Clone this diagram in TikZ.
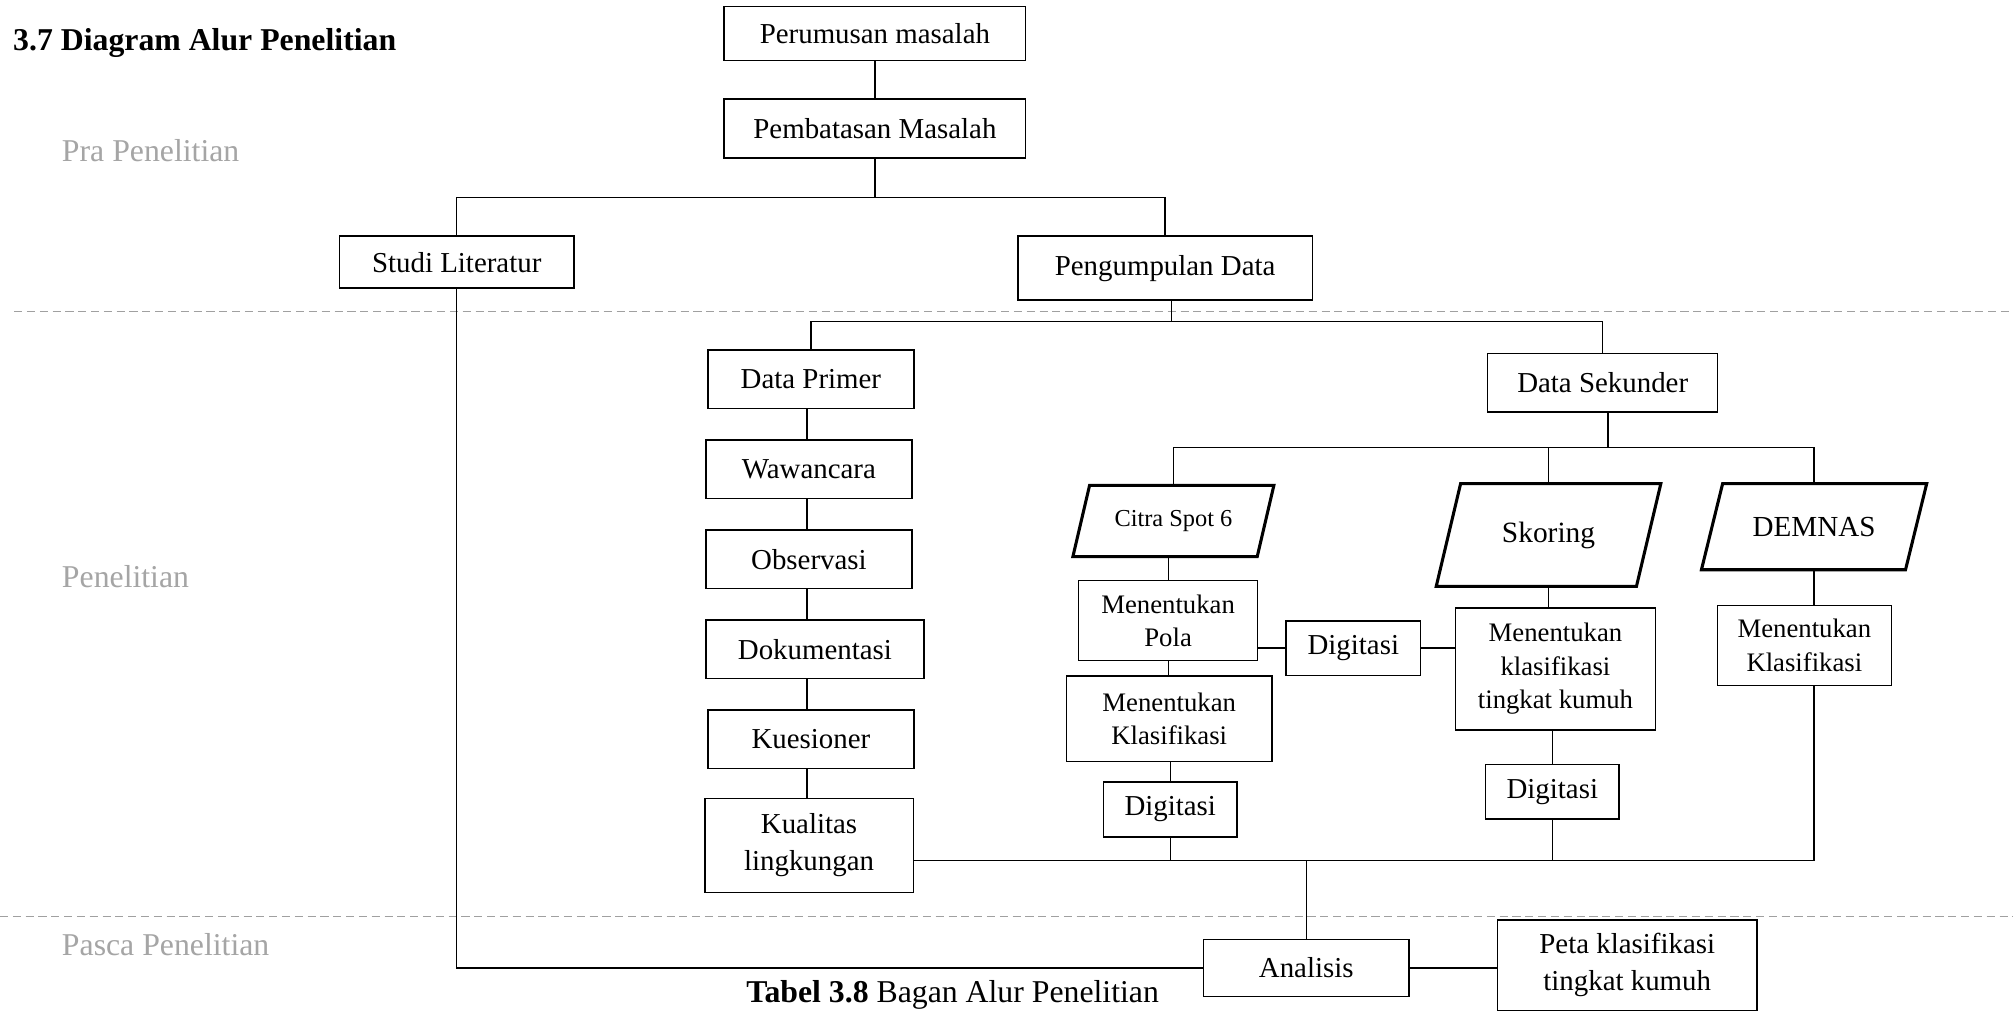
\documentclass[tikz,border=0pt]{standalone}
\usepackage{fontspec}
\setmainfont{Liberation Serif}
\usetikzlibrary{calc}
\definecolor{lblgray}{RGB}{165,165,165}
\definecolor{dashgray}{RGB}{160,160,160}
\tikzset{
  boxnode/.style={draw, line width=0.8pt, inner sep=0pt, align=center, font=\fontsize{16}{20.5}\selectfont},
  smallbox/.style={boxnode, font=\fontsize{14.8}{18.6}\selectfont},
  paranode/.style={inner sep=0pt, align=center},
  paraline/.style={line width=1.7pt, line join=miter},
  conn/.style={line width=0.7pt},
  dashline/.style={dashgray, line width=0.9pt, dash pattern=on 4.5pt off 2.6pt},
  phase/.style={lblgray, anchor=base west, inner sep=0pt, font=\fontsize{17.6}{20}\selectfont},
}
\newcommand\mybox[7]{\node[#6, minimum width={(#3-#2)*0.025cm}, minimum height={(#5-#4)*0.025cm}] (#1) at ({(#2+#3)/2},{(#4+#5)/2}) {#7};}
\newcommand\mypara[8]{%
  \node[paranode, font=#7, minimum width={(#3-#2)*0.025cm}, minimum height={(#5-#4)*0.025cm}] (#1) at ({(#2+#3)/2},{(#4+#5)/2}) {#8};
  \draw[paraline] ($(#1.north west)+(#6,0)$) -- (#1.north east) -- ($(#1.south east)-(#6,0)$) -- (#1.south west) -- cycle;}
\begin{document}
\begin{tikzpicture}[x=0.025cm, y=-0.025cm]
\useasboundingbox (0,0) rectangle (1568,788);
\fill[white] (0,0) rectangle (1568,788);
\clip (0,0) rectangle (1568,788);

% titles and phase labels
\node[anchor=base west, inner sep=0pt, font=\fontsize{17.6}{20}\selectfont\bfseries] (title) at (10,39) {3.7 Diagram Alur Penelitian};
\node[phase] (pra) at (48,126) {Pra Penelitian};
\node[phase] (pen) at (48,458) {Penelitian};
\node[phase] (pasca) at (48,744) {Pasca Penelitian};
\node[anchor=base west, inner sep=0pt, font=\fontsize{17.6}{20}\selectfont] (cap) at (581,781) {\textbf{Tabel 3.8} Bagan Alur Penelitian};

\draw[dashline] (11,242.5) -- (1568,242.5);
\draw[dashline] (0,714) -- (1568,714);

% boxes
\mybox{pm}{564}{799}{5}{47}{boxnode}{Perumusan masalah}
\mybox{pb}{564}{799}{77}{123}{boxnode}{Pembatasan Masalah}
\mybox{sl}{264.5}{447}{184}{224.5}{boxnode}{Studi Literatur}
\mybox{pd}{792.8}{1022.3}{184}{233.7}{boxnode}{Pengumpulan Data}
\mybox{dp}{551.5}{711.8}{272.6}{318}{boxnode}{Data Primer}
\mybox{ds}{1158.8}{1338}{275.5}{321}{boxnode}{Data Sekunder}
\mybox{ww}{549.8}{710.4}{342.7}{388.2}{boxnode}{Wawancara}
\mybox{ob}{549.8}{710.4}{412.8}{458.3}{boxnode}{Observasi}
\mybox{dk}{549.8}{719.8}{483}{528.4}{boxnode}{Dokumentasi}
\mybox{ks}{551.4}{711.9}{553}{598.5}{boxnode}{Kuesioner}
\mybox{kl}{549}{711.4}{621.8}{695}{boxnode}{Kualitas\\lingkungan}

\mypara{cs}{836}{992}{378.3}{433.3}{13}{\fontsize{13.5}{16}\selectfont}{Citra Spot 6}
\mypara{sk}{1119}{1293.4}{377}{456.5}{19}{\fontsize{16.3}{20}\selectfont}{Skoring}
\mypara{dm}{1325.6}{1500.5}{377}{443.5}{16.5}{\fontsize{16.1}{20}\selectfont}{DEMNAS}

\mybox{mp}{840.2}{979.6}{452.3}{514.6}{smallbox}{Menentukan\\Pola}
\mybox{mk1}{830.7}{990.8}{526.6}{593.3}{smallbox}{Menentukan\\Klasifikasi}
\mybox{dg1}{859.5}{963.6}{609.1}{652}{boxnode}{Digitasi}
\mybox{dgm}{1001.8}{1106.5}{483.7}{526}{boxnode}{Digitasi}
\mybox{mt}{1133.7}{1289.5}{473.6}{568.6}{smallbox}{Menentukan\\klasifikasi\\tingkat kumuh}
\mybox{dg2}{1157.3}{1261}{595.4}{638}{boxnode}{Digitasi}
\mybox{mk2}{1337.7}{1473.3}{471.8}{533.8}{smallbox}{Menentukan\\Klasifikasi}
\mybox{an}{937.5}{1097.5}{731.7}{776.4}{boxnode}{Analisis}
\mybox{pt}{1166.4}{1368.6}{716.6}{787}{boxnode}{Peta klasifikasi\\tingkat kumuh}

% junction coordinates
\coordinate (j1) at (681,154);
\coordinate (j2) at (912.8,250.5);
\coordinate (j3) at (1252.6,348.7);
\coordinate (bus) at (1015.4,670.5);

% connectors: top
\draw[conn] (pm.south) -- (pb.north);
\draw[conn] (pb.south) -- (pb.south |- j1);
\draw[conn] (sl.north) -- (sl.north |- j1) -- (pd.north |- j1) -- (pd.north);

% Pengumpulan Data split
\draw[conn] (j2 |- pd.south) -- (j2);
\draw[conn] (dp.north) -- (dp.north |- j2) -- (ds.north |- j2) -- (ds.north);

% Data Primer chain
\coordinate (cx) at (628.5,0);
\draw[conn] (cx |- dp.south) -- (cx |- ww.north);
\draw[conn] (cx |- ww.south) -- (cx |- ob.north);
\draw[conn] (cx |- ob.south) -- (cx |- dk.north);
\draw[conn] (cx |- dk.south) -- (cx |- ks.north);
\draw[conn] (cx |- ks.south) -- (cx |- kl.north);

% Data Sekunder split
\draw[conn] (j3 |- ds.south) -- (j3);
\draw[conn] (cs.north) -- (cs.north |- j3) -- (dm.north |- j3) -- (dm.north);
\draw[conn] (sk.north) -- (sk.north |- j3);

% Citra Spot branch
\draw[conn] (mp.north) -- (mp.north |- cs.south);
\draw[conn] (mp.south) -- (mp.south |- mk1.north);
\draw[conn] (dg1.north) -- (dg1.north |- mk1.south);
\draw[conn] (dgm.west) -- (dgm.west -| mp.east);
\draw[conn] (dgm.east) -- (dgm.east -| mt.west);

% Skoring branch
\draw[conn] (sk.south) -- (sk.south |- mt.north);
\draw[conn] (dg2.north) -- (dg2.north |- mt.south);

% DEMNAS branch
\draw[conn] (dm.south) -- (dm.south |- mk2.north);

% collecting bus
\draw[conn] (kl.east |- bus) -- (dm.south |- bus) -- (dm.south |- mk2.south);
\draw[conn] (dg1.south) -- (dg1.south |- bus);
\draw[conn] (dg2.south) -- (dg2.south |- bus);
\draw[conn] (an.north) -- (an.north |- bus);

% to Analisis and result
\draw[conn] (sl.south) -- (sl.south |- an.west) -- (an.west);
\draw[conn] (an.east) -- (an.east -| pt.west);
\end{tikzpicture}
\end{document}
